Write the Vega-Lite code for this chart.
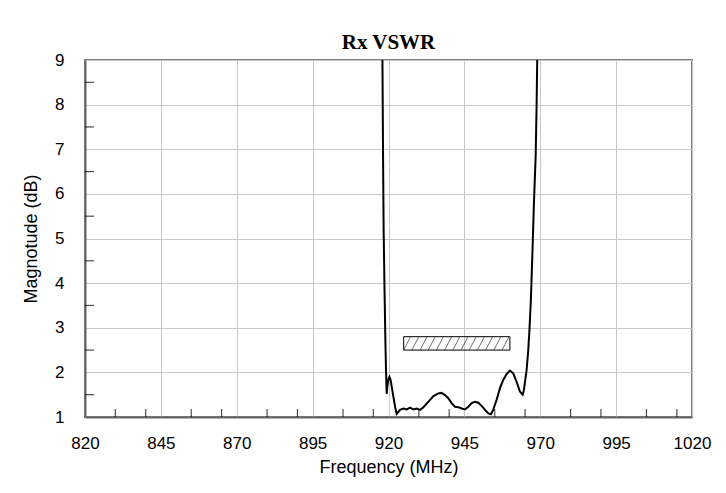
{
  "$schema": "https://vega.github.io/schema/vega-lite/v6.json",
  "autosize": {"type": "none"},
  "padding": {"left": 85, "top": 60, "right": 34, "bottom": 76},
  "width": 607,
  "height": 357,
  "background": "white",
  "config": {
    "view": {"stroke": "#808080", "strokeWidth": 2},
    "font": "Liberation Sans"
  },
  "title": {
    "text": "Rx VSWR",
    "font": "Liberation Serif",
    "fontSize": 21,
    "fontWeight": "bold",
    "color": "black",
    "anchor": "middle",
    "offset": -2
  },
  "datasets": {
    "curve": [
      {"f": 918.0, "v": 9.0},
      {"f": 918.1, "v": 8.0},
      {"f": 918.2, "v": 6.9},
      {"f": 918.4, "v": 5.2},
      {"f": 918.7, "v": 3.8},
      {"f": 919.0, "v": 2.6},
      {"f": 919.2, "v": 2.0},
      {"f": 919.4, "v": 1.52},
      {"f": 919.6, "v": 1.68},
      {"f": 920.0, "v": 1.85},
      {"f": 920.3, "v": 1.9},
      {"f": 920.7, "v": 1.83},
      {"f": 921.2, "v": 1.62},
      {"f": 921.6, "v": 1.46},
      {"f": 922.2, "v": 1.22},
      {"f": 922.7, "v": 1.07},
      {"f": 923.2, "v": 1.11},
      {"f": 923.8, "v": 1.16},
      {"f": 924.9, "v": 1.19},
      {"f": 926.0, "v": 1.17},
      {"f": 927.1, "v": 1.21},
      {"f": 928.2, "v": 1.17},
      {"f": 929.3, "v": 1.19},
      {"f": 930.4, "v": 1.16},
      {"f": 931.5, "v": 1.22},
      {"f": 933.1, "v": 1.34},
      {"f": 934.8, "v": 1.47},
      {"f": 936.4, "v": 1.53},
      {"f": 937.5, "v": 1.54},
      {"f": 938.6, "v": 1.49},
      {"f": 939.7, "v": 1.42},
      {"f": 940.8, "v": 1.31},
      {"f": 941.9, "v": 1.23},
      {"f": 943.0, "v": 1.22},
      {"f": 944.1, "v": 1.19},
      {"f": 945.2, "v": 1.17},
      {"f": 946.3, "v": 1.23},
      {"f": 947.4, "v": 1.31},
      {"f": 948.5, "v": 1.34},
      {"f": 949.6, "v": 1.32},
      {"f": 950.7, "v": 1.25},
      {"f": 951.8, "v": 1.16},
      {"f": 952.9, "v": 1.08},
      {"f": 953.7, "v": 1.06},
      {"f": 954.5, "v": 1.16},
      {"f": 955.6, "v": 1.38},
      {"f": 956.7, "v": 1.64},
      {"f": 957.8, "v": 1.83},
      {"f": 958.9, "v": 1.96},
      {"f": 960.0, "v": 2.04},
      {"f": 961.1, "v": 1.98},
      {"f": 962.2, "v": 1.79},
      {"f": 963.3, "v": 1.57},
      {"f": 964.2, "v": 1.5},
      {"f": 964.6, "v": 1.6},
      {"f": 965.0, "v": 1.8},
      {"f": 965.5, "v": 2.05},
      {"f": 966.0, "v": 2.45},
      {"f": 966.4, "v": 2.9},
      {"f": 966.9, "v": 3.6},
      {"f": 967.4, "v": 4.63},
      {"f": 967.9, "v": 5.75},
      {"f": 968.5, "v": 6.87},
      {"f": 968.8, "v": 7.99},
      {"f": 969.0, "v": 9.0}
    ],
    "box": [{"x1": 925, "x2": 960, "y1": 2.5, "y2": 2.8}],
    "hatch": [
      {"xa": 925.0, "xb": 927.3},
      {"xa": 927.7, "xb": 930.0},
      {"xa": 930.4, "xb": 932.7},
      {"xa": 933.1, "xb": 935.4},
      {"xa": 935.8, "xb": 938.1},
      {"xa": 938.5, "xb": 940.8},
      {"xa": 941.2, "xb": 943.5},
      {"xa": 943.9, "xb": 946.2},
      {"xa": 946.6, "xb": 948.9},
      {"xa": 949.3, "xb": 951.6},
      {"xa": 952.0, "xb": 954.3},
      {"xa": 954.7, "xb": 957.0},
      {"xa": 957.4, "xb": 959.7}
    ],
    "xminor": [
      {"m": 830}, {"m": 840}, {"m": 855}, {"m": 865}, {"m": 880}, {"m": 890},
      {"m": 905}, {"m": 915}, {"m": 930}, {"m": 940}, {"m": 955}, {"m": 965},
      {"m": 980}, {"m": 990}, {"m": 1005}, {"m": 1015}
    ],
    "yminor": [
      {"m": 1.5}, {"m": 2.5}, {"m": 3.5}, {"m": 4.5}, {"m": 5.5}, {"m": 6.5}, {"m": 7.5}, {"m": 8.5}
    ]
  },
  "layer": [
    {
      "data": {"name": "curve"},
      "mark": {"type": "line", "color": "black", "strokeWidth": 2, "clip": true},
      "encoding": {
        "x": {
          "field": "f", "type": "quantitative",
          "scale": {"domain": [820, 1020], "nice": false, "zero": false},
          "axis": {
            "title": "Frequency (MHz)",
            "values": [820, 845, 870, 895, 920, 945, 970, 995, 1020],
            "format": "d",
            "labelFlush": false, "labelOverlap": false,
            "grid": true, "gridColor": "#c8c8c8", "gridWidth": 1,
            "ticks": false,
            "domainColor": "#666666", "domainWidth": 2,
            "labelFont": "Liberation Sans", "labelFontSize": 17, "labelColor": "black",
            "labelPadding": 18,
            "titleFont": "Liberation Sans", "titleFontSize": 18, "titleFontWeight": "normal", "titleColor": "black",
            "titlePadding": 7
          }
        },
        "y": {
          "field": "v", "type": "quantitative",
          "scale": {"domain": [1, 9], "nice": false, "zero": false},
          "axis": {
            "title": "Magnotude (dB)",
            "values": [1, 2, 3, 4, 5, 6, 7, 8, 9],
            "format": "d",
            "labelFlush": false, "labelOverlap": false,
            "grid": true, "gridColor": "#c8c8c8", "gridWidth": 1,
            "ticks": false,
            "domainColor": "#666666", "domainWidth": 2,
            "labelFont": "Liberation Sans", "labelFontSize": 17, "labelColor": "black",
            "labelPadding": 21,
            "titleFont": "Liberation Sans", "titleFontSize": 18, "titleFontWeight": "normal", "titleColor": "black",
            "titlePadding": 14
          }
        },
        "order": {"field": "f", "type": "quantitative"}
      }
    },
    {
      "data": {"name": "box"},
      "mark": {"type": "rect", "fill": null, "fillOpacity": 0, "stroke": "black", "strokeWidth": 1},
      "encoding": {
        "x": {"field": "x1", "type": "quantitative"},
        "x2": {"field": "x2"},
        "y": {"field": "y1", "type": "quantitative"},
        "y2": {"field": "y2"}
      }
    },
    {
      "data": {"name": "hatch"},
      "mark": {"type": "rule", "color": "#333333", "strokeWidth": 0.7},
      "encoding": {
        "x": {"field": "xa", "type": "quantitative"},
        "x2": {"field": "xb"},
        "y": {"datum": 2.5, "type": "quantitative"},
        "y2": {"datum": 2.8}
      }
    },
    {
      "data": {"name": "xminor"},
      "mark": {"type": "tick", "orient": "vertical", "color": "black", "thickness": 1.2, "size": 8, "yOffset": -4},
      "encoding": {
        "x": {"field": "m", "type": "quantitative"},
        "y": {"datum": 1, "type": "quantitative"}
      }
    },
    {
      "data": {"name": "yminor"},
      "mark": {"type": "tick", "orient": "horizontal", "color": "black", "thickness": 1.2, "size": 9, "xOffset": 4.5},
      "encoding": {
        "y": {"field": "m", "type": "quantitative"},
        "x": {"datum": 820, "type": "quantitative"}
      }
    }
  ]
}
